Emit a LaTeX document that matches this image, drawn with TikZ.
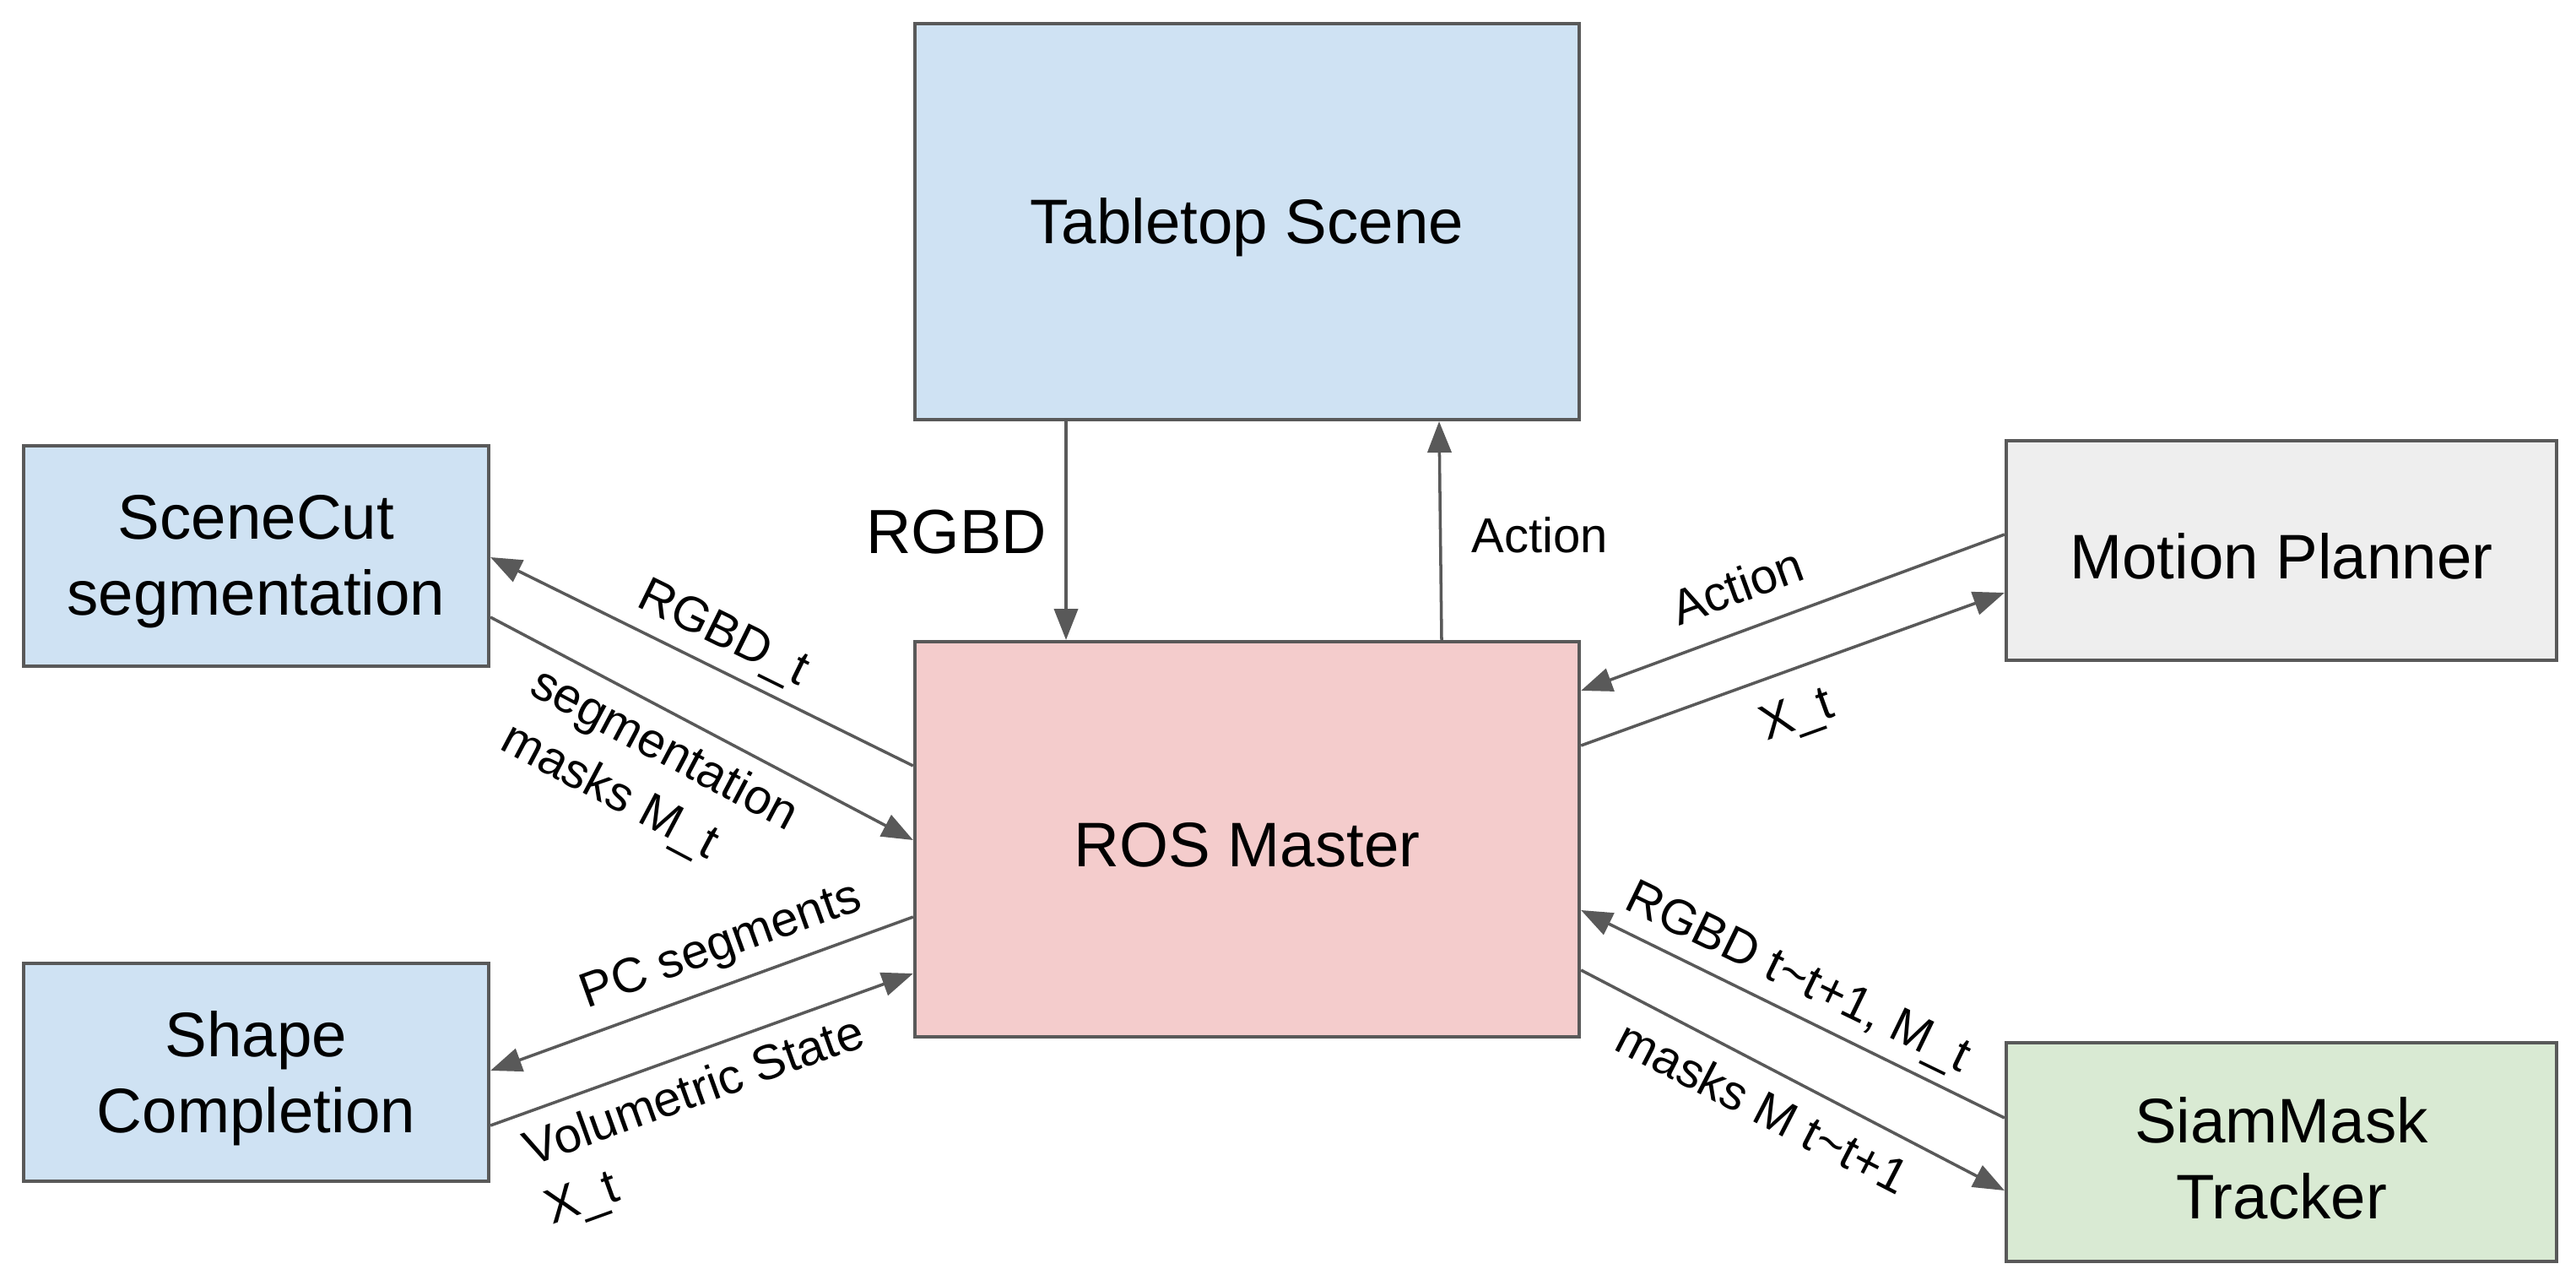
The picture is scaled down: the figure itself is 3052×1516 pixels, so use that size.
\documentclass[tikz,border=0pt]{standalone}
\usepackage{fontspec}
\setmainfont{Liberation Sans}
\usetikzlibrary{arrows.meta}
\definecolor{lblue}{HTML}{CFE2F3}
\definecolor{lpink}{HTML}{F4CCCC}
\definecolor{lgray}{HTML}{EEEEEE}
\definecolor{lgreen}{HTML}{D9EAD3}
\definecolor{lineg}{HTML}{595959}
\begin{document}
\begin{tikzpicture}[x=0.01cm,y=-0.01cm,
  box/.style={draw=lineg, line width=1.1pt, inner sep=0pt},
  boxtext/.style={align=center, inner sep=0pt, yshift=-0.07cm,
    font=\fontsize{21.2}{25.5}\selectfont},
  conn/.style={draw=lineg, line width=1pt, -{Triangle[length=10.5pt,width=8pt]}},
  lab/.style={inner sep=0pt, align=left, font=\fontsize{16.5}{21}\selectfont},
  biglab/.style={inner sep=0pt, font=\fontsize{21}{24.7}\selectfont}]
\useasboundingbox (0,0) rectangle (3052,1516);
\fill[white] (0,0) rectangle (3052,1516);

% boxes
\node[box, fill=lblue, minimum width=7.87cm, minimum height=4.69cm] (tab) at (1477.5,262.5) {};
\node[box, fill=lpink, minimum width=7.87cm, minimum height=4.68cm] (ros) at (1477.5,994) {};
\node[box, fill=lblue, minimum width=5.51cm, minimum height=2.61cm] (sc) at (303.5,658.5) {};
\node[box, fill=lblue, minimum width=5.51cm, minimum height=2.58cm] (shp) at (303.5,1270) {};
\node[box, fill=lgray, minimum width=6.52cm, minimum height=2.60cm] (mp) at (2703,652) {};
\node[box, fill=lgreen, minimum width=6.52cm, minimum height=2.59cm] (sm) at (2703,1364.5) {};

% box texts
\node[boxtext] (tabt) at (tab.center) {Tabletop Scene};
\node[boxtext] (rost) at (ros.center) {ROS Master};
\node[boxtext] (sct) at (sc.center) {SceneCut\\segmentation};
\node[boxtext] (shpt) at (shp.center) {Shape\\Completion};
\node[boxtext] (mpt) at (mp.center) {Motion Planner};
\node[boxtext] (smt) at (sm.center) {SiamMask\\Tracker};

% connectors
\draw[conn] (tab.south -| 1263,0) -- (ros.north -| 1263,0);
\draw[conn] (ros.north -| 1708,0) -- (tab.south -| 1705,0);
\draw[conn] (ros.west |- 0,907) -- (sc.east |- 0,660);
\draw[conn] (sc.east |- 0,731) -- (ros.west |- 0,995);
\draw[conn] (ros.west |- 0,1086) -- (shp.east |- 0,1268);
\draw[conn] (shp.east |- 0,1333) -- (ros.west |- 0,1153);
\draw[conn] (mp.west |- 0,633) -- (ros.east |- 0,818);
\draw[conn] (ros.east |- 0,883) -- (mp.west |- 0,702);
\draw[conn] (sm.west |- 0,1324) -- (ros.east |- 0,1078);
\draw[conn] (ros.east |- 0,1149) -- (sm.west |- 0,1410);

% labels
\node[biglab] (l1) at (1133,630) {RGBD};
\node[lab] (l2) at (1824,634) {Action};
\node[lab, rotate=-26.2] (l3) at (856,752) {RGBD\_t};
\node[lab, rotate=-27.9] (l4) at (769,922) {segmentation\\masks M\_t};
\node[lab, rotate=19.8] (l5) at (855,1122) {PC segments};
\node[lab, rotate=19.8] (l6) at (836,1330) {Volumetric State\\X\_t};
\node[lab, rotate=20] (l7) at (2058,694) {Action};
\node[lab, rotate=19.8] (l8) at (2130,849) {X\_t};
\node[lab, rotate=-25.9] (l9) at (2129,1160) {RGBD t\textasciitilde t+1, M\_t};
\node[lab, rotate=-27.3] (l10) at (2089,1311) {masks M t\textasciitilde t+1};
\end{tikzpicture}
\end{document}
